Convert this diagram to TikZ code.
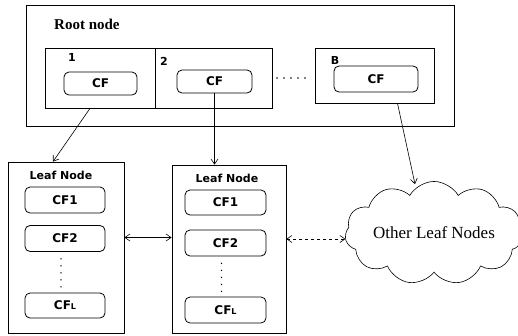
\documentclass[tikz,border=0pt]{standalone}
\usepackage{fontspec}
\setmainfont{Liberation Serif}
\newfontfamily\cffont{DejaVu Sans}
\usetikzlibrary{arrows.meta,shapes.symbols}
\tikzset{
  box/.style={draw, line width=0.8pt, inner sep=0pt},
  cfbox/.style={draw, line width=0.8pt, rounded corners=5pt, inner sep=0pt, font=\cffont\bfseries\fontsize{12}{14}\selectfont},
  lbl/.style={font=\cffont\bfseries\fontsize{11}{13}\selectfont, inner sep=0pt},
  dots/.style={line width=1.6pt, line cap=round, dash pattern=on 0pt off 7pt},
  arr/.style={line width=0.6pt, -{Straight Barb[length=5pt,width=7pt]}},
  darr/.style={line width=0.6pt, {Straight Barb[length=5pt,width=7pt]}-{Straight Barb[length=5pt,width=7pt]}},
}
\newcommand{\cfl}{CF{\fontsize{8}{9}\selectfont L}}
\begin{document}
\begin{tikzpicture}[x=1pt,y=-1pt]
\useasboundingbox[fill=white] (0,0) rectangle (518,335);
% root
\node[box, minimum width=428pt, minimum height=121pt] (root) at (240,65.5) {};
\node[anchor=west, font=\bfseries\fontsize{15}{17}\selectfont, inner sep=0pt] (roottitle) at (54,24) {Root node};
\node[box, minimum width=110pt, minimum height=60pt] (box1) at (100,78) {};
\node[box, minimum width=117pt, minimum height=60pt] (box2) at (213.5,78) {};
\node[box, minimum width=119pt, minimum height=55pt] (boxB) at (374.5,75.5) {};
\node[lbl] (l1) at (72,57) {1};
\node[lbl] (l2) at (164,61) {2};
\node[lbl] (lB) at (335,60) {B};
\node[cfbox, minimum width=73pt, minimum height=23pt] (cf1) at (100.5,83.5) {CF};
\node[cfbox, minimum width=75pt, minimum height=23pt] (cf2) at (214.5,81.5) {CF};
\node[cfbox, minimum width=84pt, minimum height=26pt] (cfB) at (376,79) {CF};
\coordinate (d1) at (277,78);
\coordinate (d2) at (312,78);
\draw[dots] (d1) -- (d2);
% leaf 1
\node[box, minimum width=116pt, minimum height=171pt] (leaf1) at (66,247.5) {};
\node[lbl] (leaf1t) at (61,175) {Leaf Node};
\node[cfbox, minimum width=80pt, minimum height=26pt] (a1) at (65,200) {CF1};
\node[cfbox, minimum width=80pt, minimum height=26pt] (a2) at (65,238.5) {CF2};
\node[cfbox, minimum width=80pt, minimum height=25pt] (aL) at (65,305.5) {\cfl};
\draw[dots] ([xshift=-4pt,yshift=-7pt]a2.south) -- ([xshift=-4pt,yshift=3pt]aL.north);
% leaf 2
\node[box, minimum width=114pt, minimum height=168pt] (leaf2) at (229,249) {};
\node[lbl] (leaf2t) at (227,178) {Leaf Node};
\node[cfbox, minimum width=81pt, minimum height=25pt] (b1) at (225.5,202.5) {CF1};
\node[cfbox, minimum width=81pt, minimum height=26pt] (b2) at (225.5,243) {CF2};
\node[cfbox, minimum width=81pt, minimum height=26pt] (bL) at (225.5,310) {\cfl};
\draw[dots] ([xshift=-4pt,yshift=-7pt]b2.south) -- ([xshift=-4pt,yshift=3pt]bL.north);
% cloud
\node[cloud, draw, line width=0.6pt, cloud puffs=11, cloud puff arc=120, aspect=2.2, minimum width=164pt, minimum height=94pt, inner sep=0pt, font=\fontsize{17}{19}\selectfont] (cloud) at (434,233) {Other Leaf Nodes};
% connectors
\draw[arr] ([xshift=-10pt]box1.south) -- ([xshift=-13pt]leaf1.north);
\draw[arr] (cf2.south) -- (cf2.south |- leaf2.north);
\draw[arr] ([xshift=23pt]boxB.south) -- ([xshift=-19pt,yshift=-3pt]cloud.north);
\draw[darr] ([yshift=10pt]leaf1.east) -- ([yshift=10pt]leaf1.east -| leaf2.west);
\draw[darr, dashed] ([yshift=10pt]leaf2.east) -- ([yshift=10pt]leaf2.east -| cloud.west);
\end{tikzpicture}
\end{document}
